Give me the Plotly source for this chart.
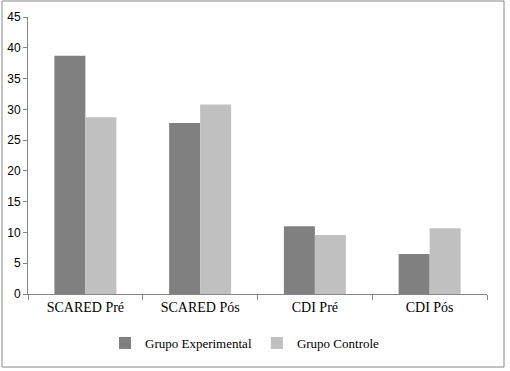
import plotly.graph_objects as go

categories = ["SCARED Pré", "SCARED Pós", "CDI Pré", "CDI Pós"]
experimental = [38.7, 27.8, 11.0, 6.5]
controle = [28.7, 30.8, 9.6, 10.7]
series_names = ["Grupo Experimental", "Grupo Controle"]

W, H = 510, 371
L, R, T, B = 28, 23, 17, 77
pw, ph = W - L - R, H - T - B

SERIF = "serif"

fig = go.Figure()
fig.add_trace(go.Bar(x=categories, y=experimental, name=series_names[0],
                     marker=dict(color="#808080", line=dict(width=0))))
fig.add_trace(go.Bar(x=categories, y=controle, name=series_names[1],
                     marker=dict(color="#C0C0C0", line=dict(width=0))))

def px_x(p):
    return (p - L) / pw

def px_y(p):
    return (H - B - p) / ph

fig.update_layout(
    width=W, height=H,
    margin=dict(l=L, r=R, t=T, b=B, autoexpand=False),
    paper_bgcolor="white", plot_bgcolor="white",
    barmode="group", bargap=0.46, bargroupgap=0.0,
    font=dict(family=SERIF, size=13, color="black"),
    showlegend=True,
    legend=dict(orientation="h", x=px_x(245), xanchor="center", y=px_y(343), yanchor="middle",
                font=dict(family=SERIF, size=13), itemwidth=30, tracegroupgap=0,
                bgcolor="rgba(0,0,0,0)"),
    xaxis=dict(type="category", range=[-0.5, 3.5], showline=True, linecolor="#868686",
               linewidth=1, ticks="outside", tickson="boundaries", ticklen=5,
               tickcolor="#868686", showgrid=False, zeroline=False, automargin=False,
               tickfont=dict(family=SERIF, size=14)),
    yaxis=dict(range=[0, 45], dtick=5, showline=True, linecolor="#868686", linewidth=1,
               ticks="outside", ticklen=4, tickcolor="#868686", showgrid=False,
               zeroline=False, automargin=False,
               tickfont=dict(family="Liberation Sans", size=12)),
    shapes=[dict(type="rect", xref="paper", yref="paper",
                 x0=px_x(2), x1=px_x(504), y0=px_y(367), y1=px_y(1),
                 line=dict(color="#868686", width=1), fillcolor="rgba(0,0,0,0)",
                 layer="below")],
)

fig.write_html("out.html", config={"displayModeBar": False},
               post_script="document.body.style.margin='0';document.body.style.overflow='hidden';")
